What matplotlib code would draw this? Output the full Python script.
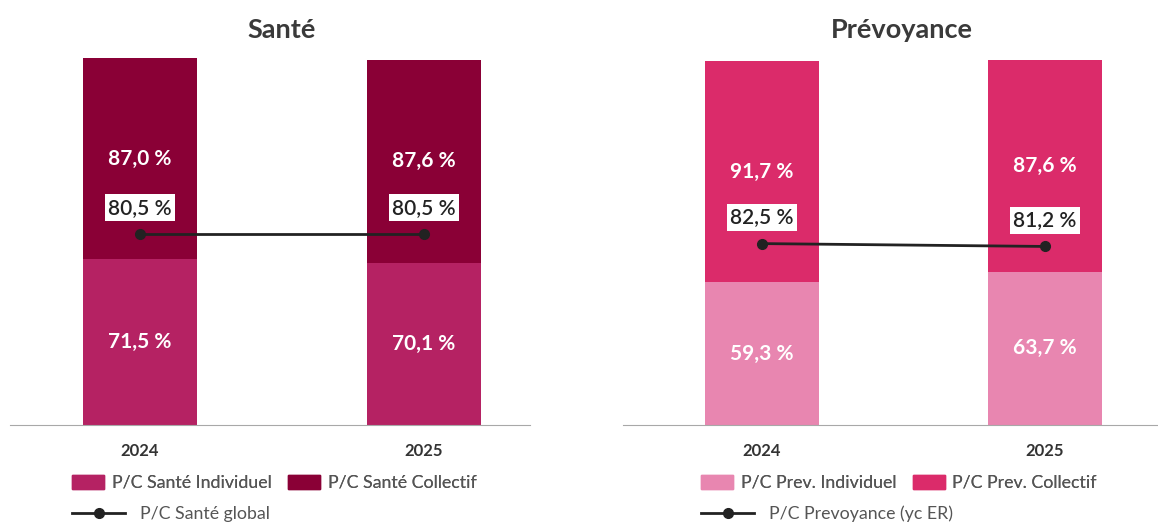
import matplotlib.pyplot as plt
from matplotlib.patches import Patch
from matplotlib.lines import Line2D

plt.rcParams['font.family'] = ['Lato', 'DejaVu Sans']

years = ['2024', '2025']

sante_indiv = [71.5, 70.1]
sante_coll = [87.0, 87.6]
sante_global = [80.5, 80.5]

prev_indiv = [59.3, 63.7]
prev_coll = [91.7, 87.6]
prev_global = [82.5, 81.2]

W, H = 1158, 523
fig = plt.figure(figsize=(W / 100, H / 100), dpi=100)


def px(x0, y0, w, h):
    return [x0 / W, 1 - (y0 + h) / H, w / W, h / H]


def fmt(v):
    return f'{v:.1f}'.replace('.', ',') + ' %'


def panel(rect, xlim, ylim, ylim2, indiv, coll, glob, c_ind, c_col,
          title, title_x, labels):
    ax = fig.add_axes(px(*rect))
    x = range(len(years))
    ax.bar(x, indiv, width=0.40, color=c_ind)
    ax.bar(x, coll, width=0.40, bottom=indiv, color=c_col)
    for i in x:
        ax.text(i, indiv[i] / 2, fmt(indiv[i]), ha='center', va='center',
                color='white', fontsize=15, fontweight='bold')
        ax.text(i, indiv[i] + coll[i] / 2, fmt(coll[i]), ha='center', va='center',
                color='white', fontsize=15, fontweight='bold')
    ax.set_xlim(*xlim)
    ax.set_ylim(0, ylim)
    ax.set_xticks(list(x))
    ax.set_xticklabels(years, fontsize=12, fontweight='bold', color='#333333')
    ax.tick_params(axis='x', length=0, pad=13)
    ax.set_yticks([])
    for s in ['top', 'left', 'right']:
        ax.spines[s].set_visible(False)
    ax.spines['bottom'].set_color('#a8a8a8')

    ax2 = ax.twinx()
    ax2.plot(list(x), glob, color='#222222', lw=2, marker='o', ms=7)
    for i in x:
        ax2.annotate(fmt(glob[i]), (i, glob[i]), xytext=(0, 19),
                     textcoords='offset points', ha='center', va='center',
                     fontsize=15, fontweight='semibold', color='#222222',
                     bbox=dict(facecolor='white', edgecolor='none', pad=2.5))
    ax2.set_ylim(0, ylim2)
    ax2.set_yticks([])
    for s in ax2.spines.values():
        s.set_visible(False)

    fig.text(title_x / W, 1 - 30 / H, title, ha='center', va='center',
             fontsize=19.5, fontweight='bold', color='#3a3a3a')

    leg_x = rect[0] + (62 if title == 'Santé' else 78)
    l1 = fig.legend(handles=[Patch(color=c_ind), Patch(color=c_col)],
                    labels=labels[:2], loc='center left', ncol=2,
                    bbox_to_anchor=(leg_x / W, 1 - 483 / H), frameon=False,
                    fontsize=12.8, handlelength=1.8, handleheight=0.8,
                    columnspacing=0.9, handletextpad=0.45, labelcolor='#555555',
                    borderaxespad=0, borderpad=0)
    fig.add_artist(l1)
    fig.legend(handles=[Line2D([], [], color='#222222', lw=2, marker='o', ms=7)],
               labels=labels[2:], loc='center left',
               bbox_to_anchor=(leg_x / W, 1 - 514 / H), frameon=False,
               fontsize=12.8, handlelength=3.0, handletextpad=0.8,
               labelcolor='#555555', borderaxespad=0, borderpad=0)


panel((10, 58, 520, 367), (-0.458, 1.373), 158.5, 154.7,
      sante_indiv, sante_coll, sante_global, '#B52263', '#8A0036',
      'Santé', 282,
      ['P/C Santé Individuel', 'P/C Santé Collectif', 'P/C Santé global'])

panel((623, 58, 535, 367), (-0.491, 1.399), 152.3, 166.9,
      prev_indiv, prev_coll, prev_global, '#E886B0', '#DB2B6A',
      'Prévoyance', 902,
      ['P/C Prev. Individuel', 'P/C Prev. Collectif', 'P/C Prevoyance (yc ER)'])

fig.savefig('out.png', dpi=100)
